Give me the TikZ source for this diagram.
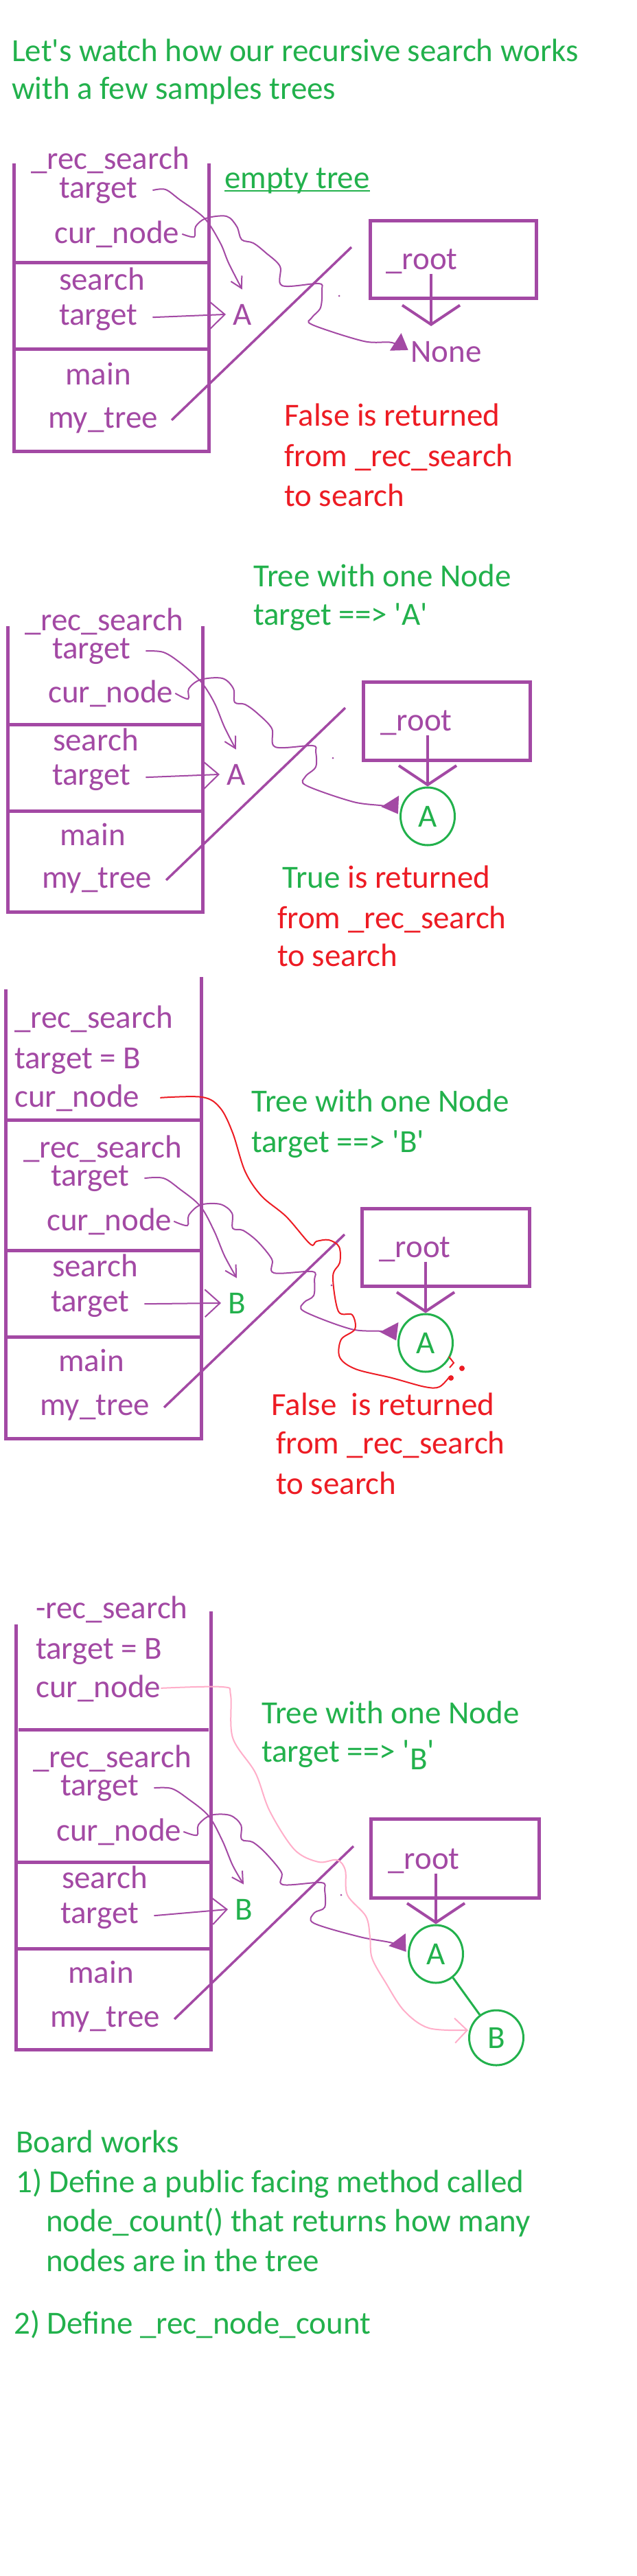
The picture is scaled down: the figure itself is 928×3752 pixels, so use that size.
\documentclass[tikz,border=0pt]{standalone}
\usepackage{fontspec}
\setmainfont{Carlito}
\usetikzlibrary{arrows.meta,shapes.geometric}
\definecolor{mspurple}{RGB}{163,73,164}
\definecolor{msgreen}{RGB}{34,177,76}
\definecolor{msred}{RGB}{237,28,36}
\definecolor{mspink}{RGB}{255,174,201}
\tikzset{
  lbl/.style={text=mspurple},
  note/.style={text=msgreen},
  verdict/.style={text=msred},
  stackbox/.style={draw=mspurple, line width=5pt},
  wire/.style={draw=mspurple, line width=2pt},
  targettip/.style={-{Straight Barb[length=22pt,width=40pt]}},
  curvetip/.style={-{Straight Barb[length=16pt,width=18pt]}},
  blobtip/.style={-{Triangle[length=22pt,width=30pt]}, shorten >=4pt},
  ptr/.style={draw=mspurple, line width=4pt, -{Straight Barb[length=28pt,width=84pt]}},
  handle/.style={draw=mspurple, line width=3.5pt},
  treenode/.style={ellipse, draw=msgreen, line width=3pt, text=msgreen,
    minimum width=79pt, minimum height=84pt, anchor=center},
  freehand/.style={smooth, tension=0.55},
}
\begin{document}
\begin{tikzpicture}[x=1pt, y=-1pt,
  every node/.style={font=\fontsize{47}{57}\selectfont, inner sep=0pt, anchor=base west}]
  \fill[white] (0,0) rectangle (928,3752);
  \useasboundingbox (0,0) rectangle (928,3752);

  % Heading
  \node[note] (head1) at (17,90) {Let\textquotesingle s watch how our recursive search works};
  \node[note] (head2) at (17,145) {with a few samples trees};

  \begin{scope}
    % Empty tree: stack frames
    \draw[stackbox] (20,238) -- (20,657) -- (304,657) -- (304,238);
    \draw[stackbox] (20,382) -- (304,382) (20,508) -- (304,508);
    \foreach \x/\y/\t/\n in {45/247/\_rec\_search/f1a, 86/288/target/t1r, 79/354/cur\_node/c1r,
        86/422/search/f1b, 86/473/target/t1s, 95/560/main/f1c, 70/623/my\_tree/m1}
      \node[lbl] (\n) at (\x,\y) {\t};
    \node[note] (empty1) at (327,274) {empty tree};
    \draw[msgreen, line width=2pt] ([yshift=4pt]empty1.south west) -- ([yshift=4pt]empty1.south east);
    % Tree object
    \draw[stackbox] (539,321) rectangle (781,434);
    \node[lbl] (r1) at (562,392) {\_root};
    \coordinate (nil1) at (628,475);
    \node[lbl] (none1) at (598,527) {None};
    \draw[ptr] (r1.south -| nil1) -- (nil1);
    % References
    \node[lbl] (a1) at (339,473) {A};
    \draw[wire, targettip] ([xshift=22pt]t1s.east) -- ([xshift=-10pt]a1.west);
    \draw[wire, curvetip] plot[freehand] coordinates {([xshift=22pt]t1r.east) (241,276) (262,291)
      (298,318) (321,354) (333,383) ([yshift=21pt]a1.north)};
    \draw[wire, blobtip] plot[freehand] coordinates {([xshift=4pt]c1r.east) (283,345) (285,330)
      (300,318) (330,315) (345,330) (352,349) (369,354) (387,368) (408,388) (411,416) (464,413)
      (469,422) (467,448) (454,463) (455,473) (530,497) (571,499) (none1.west)};
    \coordinate (obj1) at (512,360);
    \draw[handle] ([xshift=20pt]m1.east) -- (obj1);
    \fill[mspurple] (494,431) circle (1.5);
    % Result
    \node[verdict] (res1a) at (414,620) {False is returned};
    \node[verdict] (res1b) at (414,679) {from \_rec\_search};
    \node[verdict] (res1c) at (414,737) {to search};
  \end{scope}

  \begin{scope}
    % One node, target A: stack frames
    \node[note] (cap2a) at (369,854) {Tree with one Node};
    \node[note] (cap2b) at (369,910) {target ==> \textquotesingle A\textquotesingle};
    \draw[stackbox] (11,912) -- (11,1328) -- (295,1328) -- (295,912);
    \draw[stackbox] (11,1055) -- (295,1055) (11,1181) -- (295,1181);
    \foreach \x/\y/\t/\n in {36/918/\_rec\_search/f2a, 76/959/target/t2r, 70/1023/cur\_node/c2r,
        77/1093/search/f2b, 76/1143/target/t2s, 87/1231/main/f2c, 61/1293/my\_tree/m2}
      \node[lbl] (\n) at (\x,\y) {\t};
    % Tree object
    \draw[stackbox] (529,993) rectangle (772,1107);
    \node[lbl] (r2) at (554,1064) {\_root};
    \node[treenode] (cA2) at (623,1189) {A};
    \draw[ptr] (r2.south -| cA2.north) -- (cA2.north);
    % References
    \node[lbl] (a2) at (330,1143) {A};
    \draw[wire, targettip] ([xshift=22pt]t2s.east) -- ([xshift=-10pt]a2.west);
    \draw[wire, curvetip] plot[freehand] coordinates {([xshift=22pt]t2r.east) (238,950) (262,965)
      (292,992) (312,1023) (327,1059) ([yshift=21pt]a2.north)};
    \draw[wire, blobtip] plot[freehand] coordinates {([xshift=3pt]c2r.east) (274,1018) (275,1003)
      (292,990) (324,988) (340,1003) (342,1023) (357,1026) (375,1039) (396,1061) (401,1088)
      (455,1086) (460,1095) (460,1117) (445,1131) (446,1144) (515,1168) (565,1175) (cA2.west)};
    \coordinate (obj2) at (503,1031);
    \draw[handle] ([xshift=21pt]m2.east) -- (obj2);
    \fill[mspurple] (485,1104) circle (1.5);
    % Result
    \node[verdict] (res2a) at (411,1293) {\textcolor{msgreen}{True} is returned};
    \node[verdict] (res2b) at (404,1352) {from \_rec\_search};
    \node[verdict] (res2c) at (404,1407) {to search};
  \end{scope}

  \begin{scope}
    % One node, target B: stack frames
    \node[note] (cap3a) at (366,1619) {Tree with one Node};
    \node[note] (cap3b) at (366,1678) {target ==> \textquotesingle B\textquotesingle};
    \draw[stackbox] (8,1441) -- (8,2095) -- (293,2095) -- (293,1423);
    \draw[stackbox] (8,1631) -- (293,1631) (8,1821) -- (293,1821) (8,1947) -- (293,1947);
    \foreach \x/\y/\t/\n in {21/1497/\_rec\_search/f3a, 21/1556/target = B/f3b, 21/1612/cur\_node/c3o,
        34/1686/\_rec\_search/f3c, 74/1727/target/t3r, 68/1792/cur\_node/c3r,
        76/1859/search/f3d, 74/1910/target/t3s, 85/1997/main/f3e, 58/2061/my\_tree/m3}
      \node[lbl] (\n) at (\x,\y) {\t};
    % Tree object
    \draw[stackbox] (527,1760) rectangle (771,1873);
    \node[lbl] (r3) at (552,1831) {\_root};
    \node[treenode] (cA3) at (620,1956) {A};
    \draw[ptr] (r3.south -| cA3.north) -- (cA3.north);
    % References
    \node[note] (b3) at (332,1913) {B};
    \draw[wire, targettip] ([xshift=22pt]t3s.east) -- ([xshift=-10pt]b3.west);
    \draw[wire, curvetip] plot[freehand] coordinates {([xshift=22pt]t3r.east) (238,1716) (262,1732)
      (292,1757) (312,1793) (327,1829) ([yshift=21pt]b3.north)};
    \draw[wire, blobtip] plot[freehand] coordinates {([xshift=3pt]c3r.east) (273,1785) (275,1770)
      (292,1755) (321,1754) (338,1767) (339,1789) (354,1792) (375,1808) (396,1834) (399,1854)
      (455,1852) (458,1864) (457,1887) (443,1897) (443,1910) (512,1936) (562,1940) (cA3.west)};
    \coordinate (obj3) at (502,1798);
    \draw[handle] ([xshift=21pt]m3.east) -- (obj3);
    \fill[mspurple] (483,1872) circle (1.5);
    % Outer cur_node goes past A
    \coordinate (ret3) at (655,2005);
    \draw[msred, line width=2pt] plot[freehand] coordinates {([xshift=30pt]c3o.east) (295,1598)
      (321,1614) (339,1650) (357,1706) (381,1742) (417,1772) (452,1812) (461,1808) (479,1806)
      (494,1816) (495,1839) (485,1859) (493,1910) (513,1915) (517,1936) (497,1951) (495,1977)
      (518,1994) (571,2007) (619,2020) (640,2020) (ret3)};
    \fill[msred] (657,2007) circle (4) (673,1993) circle (4);
    \draw[msred, line width=2pt] (654,1976) -- (661,1985) -- (655,1992);
    % Result
    \node[verdict] (res3a) at (395,2061) {False\ \ is returned};
    \node[verdict] (res3b) at (402,2117) {from \_rec\_search};
    \node[verdict] (res3c) at (402,2176) {to search};
  \end{scope}

  \begin{scope}
    % Two nodes, target B: stack frames
    \node[note] (cap4a) at (381,2510) {Tree with one Node};
    \node[note] (cap4b) at (381,2566) {target ==> \textquotesingle\raisebox{-11pt}{B}\textquotesingle};
    \draw[stackbox] (23,2366) -- (23,2985) -- (307,2985) -- (307,2347);
    \draw[stackbox] (27,2519) -- (304,2519) (23,2712) -- (307,2712) (23,2838) -- (307,2838);
    \foreach \x/\y/\t/\n in {52/2357/-rec\_search/f4a, 52/2416/target = B/f4b, 52/2472/cur\_node/c4o,
        48/2574/\_rec\_search/f4c, 88/2615/target/t4r, 82/2681/cur\_node/c4r,
        90/2750/search/f4d, 88/2801/target/t4s, 99/2888/main/f4e, 73/2952/my\_tree/m4}
      \node[lbl] (\n) at (\x,\y) {\t};
    % Tree object
    \draw[stackbox] (540,2649) rectangle (785,2764);
    \node[lbl] (r4) at (565,2722) {\_root};
    \node[treenode] (cA4) at (635,2846) {A};
    \node[treenode, minimum height=80pt] (cB4) at (723,2968) {B};
    \draw[ptr] (r4.south -| cA4.north) -- (cA4.north);
    \draw[msgreen, line width=3pt] (cA4) -- (cB4);
    % References
    \node[note] (b4) at (342,2796) {B};
    \draw[wire, targettip] ([xshift=22pt]t4s.east) -- ([xshift=-10pt]b4.west);
    \draw[wire, curvetip] plot[freehand] coordinates {([xshift=22pt]t4r.east) (250,2605) (274,2620)
      (304,2645) (324,2681) (339,2717) ([yshift=21pt]b4.north)};
    \draw[wire, blobtip] plot[freehand] coordinates {([xshift=3pt]c4r.east) (287,2673) (289,2658)
      (307,2644) (335,2644) (351,2658) (352,2679) (368,2683) (387,2699) (410,2727) (412,2745)
      (468,2742) (473,2753) (473,2778) (458,2786) (457,2801) (524,2821) (575,2831) (cA4.west)};
    \coordinate (obj4) at (515,2689);
    \draw[handle] ([xshift=21pt]m4.east) -- (obj4);
    \fill[mspurple] (497,2760) circle (1.5);
    % Outer cur_node reaches B
    \draw[mspink, line width=2pt, -{Straight Barb[length=18pt,width=36pt]}] plot[freehand]
      coordinates {(c4o.east) (324,2457) (336,2469) (339,2531) (372,2582) (393,2638) (429,2694)
      (464,2712) (491,2709) (503,2724) (506,2760) (533,2791) (539,2821) (542,2852) (562,2888)
      (589,2929) (625,2954) ([yshift=11pt]cB4.west)};
  \end{scope}

  % Board work
  \node[note] (bw0) at (23,3135) {Board works};
  \node[note] (bw1) at (23,3193) {1) Define a public facing method called};
  \node[note] (bw2) at (67,3250) {node\_count() that returns how many};
  \node[note] (bw3) at (67,3308) {nodes are in the tree};
  \node[note] (bw4) at (20,3399) {2) Define \_rec\_node\_count};
\end{tikzpicture}
\end{document}
